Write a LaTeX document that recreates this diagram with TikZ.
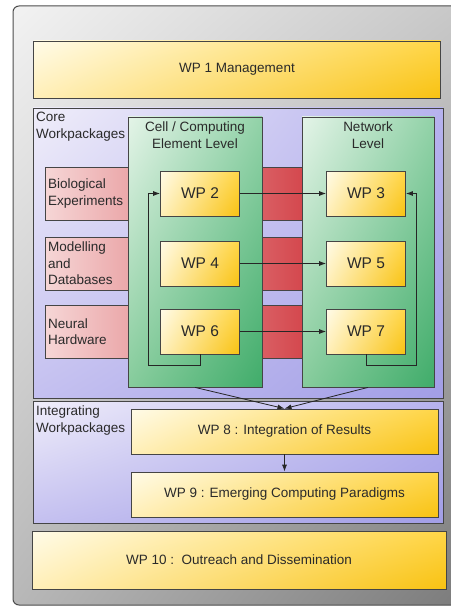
\documentclass[tikz,border=0pt]{standalone}
\usepackage{fontspec}
\setmainfont{Liberation Sans}
\usetikzlibrary{arrows.meta,shadings}
\definecolor{wpline}{HTML}{454545}
\definecolor{wptext}{HTML}{2A2A2A}
\definecolor{goldA}{HTML}{FFFBE8}
\definecolor{goldB}{HTML}{FFEFB8}
\definecolor{goldC}{HTML}{FFD648}
\definecolor{goldD}{HTML}{F8C212}
\definecolor{mintA}{HTML}{E4F4E8}
\definecolor{mintB}{HTML}{86CC9C}
\definecolor{mintC}{HTML}{92D2A8}
\definecolor{mintD}{HTML}{40AC6A}
\definecolor{lilacA}{HTML}{F0EEFA}
\definecolor{lilacB}{HTML}{C4C0F0}
\definecolor{lilacC}{HTML}{B6B2EE}
\definecolor{lilacD}{HTML}{A29EE6}
\definecolor{roseA}{HTML}{F6D6D6}
\definecolor{roseB}{HTML}{D4484E}

\begin{document}
\begin{tikzpicture}[x=1pt,y=-1pt,
    >={Latex[length=7pt,width=5pt]},
    wire/.style={draw=black!85, line width=0.8pt},
    lbl/.style={text=wptext, inner sep=2pt, align=left, font=\fontsize{13.5}{16.5}\selectfont},
    wpbig/.style={draw=wpline, line width=0.8pt, inner sep=0pt, text=wptext,
      font=\fontsize{13.5}{16.5}\selectfont,
      upper left=goldA, lower left=goldB, upper right=goldC, lower right=goldD},
    wpsmall/.style={wpbig, minimum width=79pt, minimum height=45pt, font=\fontsize{15.5}{18}\selectfont},
    lilac/.style={draw=wpline, line width=0.8pt, inner sep=0pt,
      upper left=lilacA, lower left=lilacB, upper right=lilacC, lower right=lilacD},
    green/.style={draw=wpline, line width=0.8pt, inner sep=0pt,
      upper left=mintA, lower left=mintB, upper right=mintC, lower right=mintD},
    redband/.style={draw=wpline, line width=0.8pt, left color=roseA, right color=roseB}]
  \useasboundingbox (0,0) rectangle (450,607);
  \draw[draw=black!70, line width=1pt, rounded corners=6pt,
    upper left=black!5, upper right=black!22, lower left=black!28, lower right=black!52] (13,6) rectangle (470,605);

  \node[wpbig, minimum width=407pt, minimum height=57pt] (wp1) at (237,69.5) {WP 1 Management};

  % core workpackages
  \node[lilac, minimum width=410pt, minimum height=290pt] (core) at (238,253) {};
  \node[lbl, anchor=north west] (coretxt) at (34,110) {Core\\Workpackages};
  \draw[redband] (45,167) rectangle (302,220);
  \draw[redband] (45,237) rectangle (302,290);
  \draw[redband] (45,305) rectangle (302,358);
  \node[lbl, anchor=west] (bio) at (46,193.5) {Biological\\Experiments};
  \node[lbl, anchor=west] (model) at (46,263.5) {Modelling\\and\\Databases};
  \node[lbl, anchor=west] (hw) at (46,331.5) {Neural\\Hardware};
  \node[green, minimum width=134pt, minimum height=270pt] (cell) at (195,252) {};
  \node[green, minimum width=132pt, minimum height=270pt] (net) at (368,252) {};
  \node[lbl, anchor=north, align=center] (celltxt) at (195,120) {Cell / Computing\\Element Level};
  \node[lbl, anchor=north, align=center] (nettxt) at (368,120) {Network\\Level};
  \node[wpsmall] (wp2) at (200,193.5) {WP 2};
  \node[wpsmall] (wp4) at (200,263.5) {WP 4};
  \node[wpsmall] (wp6) at (200,331.5) {WP 6};
  \node[wpsmall] (wp3) at (366,193.5) {WP 3};
  \node[wpsmall] (wp5) at (366,263.5) {WP 5};
  \node[wpsmall] (wp7) at (366,331.5) {WP 7};
  \coordinate (fbl) at (148,365);
  \coordinate (fbr) at (416,365);
  \draw[wire, ->] (wp2) -- (wp3);
  \draw[wire, ->] (wp4) -- (wp5);
  \draw[wire, ->] (wp6) -- (wp7);
  \draw[wire, ->] (wp6.south) |- (fbl) |- (wp2.west);
  \draw[wire, ->] (wp7.south) |- (fbr) |- (wp3.east);

  % integrating workpackages
  \node[lilac, minimum width=410pt, minimum height=122pt] (integ) at (238,462) {};
  \node[lbl, anchor=north west] (integtxt) at (34,404) {Integrating\\Workpackages};
  \node[wpbig, minimum width=307pt, minimum height=45pt] (wp8) at (284.5,431.5) {WP 8 : Integration of Results};
  \node[wpbig, minimum width=307pt, minimum height=45pt] (wp9) at (284.5,494.5) {WP 9 : Emerging Computing Paradigms};
  \draw[wire, ->] (cell.south) -- (wp8.north);
  \draw[wire, ->] (net.south) -- (wp8.north);
  \draw[wire, ->] (wp8) -- (wp9);

  \node[wpbig, minimum width=414pt, minimum height=58pt] (wp10) at (239,560) {WP 10 :\ \ Outreach and Dissemination};
\end{tikzpicture}
\end{document}
